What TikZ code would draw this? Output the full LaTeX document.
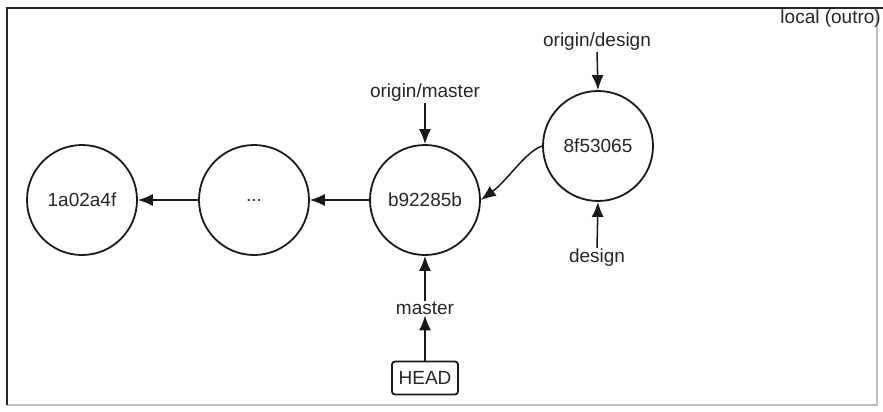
\documentclass[tikz,border=0pt]{standalone}
\usepackage{fontspec}
\setmainfont{Liberation Sans}
\usetikzlibrary{arrows.meta}
\begin{document}
\begin{tikzpicture}[x=1pt,y=-1pt,
  commit/.style={circle,draw=black!90,line width=1.8pt,minimum size=110pt,inner sep=0pt,font=\fontsize{19}{22}\selectfont,text=black!85},
  lbl/.style={inner sep=1pt,font=\fontsize{19}{22}\selectfont,text=black!85},
  headbox/.style={draw=black!90,line width=1.8pt,rounded corners=3pt,minimum width=66pt,minimum height=33pt,inner sep=2pt,font=\fontsize{19}{22}\selectfont,text=black!85},
  conn/.style={draw=black!90,line width=1.5pt,-{Latex[length=15pt,width=12pt]}}]
\useasboundingbox (0,0) rectangle (883,412);
\fill[white] (0,0) rectangle (883,412);
% frame
\draw[black!25,line width=1.2pt] (7,405) -- (877,405) -- (877,8);
\draw[black!85,line width=2.2pt] (7,405) -- (7,8) -- (883,8);
\node[lbl,anchor=east] (loc) at (882,19) {local (outro)};
% commits
\node[commit] (c1) at (82,200) {1a02a4f};
\node[commit] (c2) at (254,200) {...};
\node[commit] (c3) at (425,200) {b92285b};
\node[commit] (c4) at (598,146) {8f53065};
% labels
\node[lbl] (om) at (425,93) {origin/master};
\node[lbl] (od) at (597,42) {origin/design};
\node[lbl] (ds) at (597,258) {design};
\node[lbl] (ms) at (425,308) {master};
\node[headbox] (hd) at (425,378) {HEAD};
% connectors
\draw[conn] (c2) -- (c1);
\draw[conn] (c3) -- (c2);
\draw[conn] (c4.west) .. controls (525,152) and (508,180) .. (c3.east);
\draw[conn] ([yshift=-10pt]om.center) -- (c3.north);
\draw[conn] ([yshift=-10pt]od.center) -- (c4.north);
\draw[conn] (ds.north) -- (c4.south);
\draw[conn] (ms.north) -- (c3.south);
\draw[conn] (hd.north) -- (ms.south);
\end{tikzpicture}
\end{document}
